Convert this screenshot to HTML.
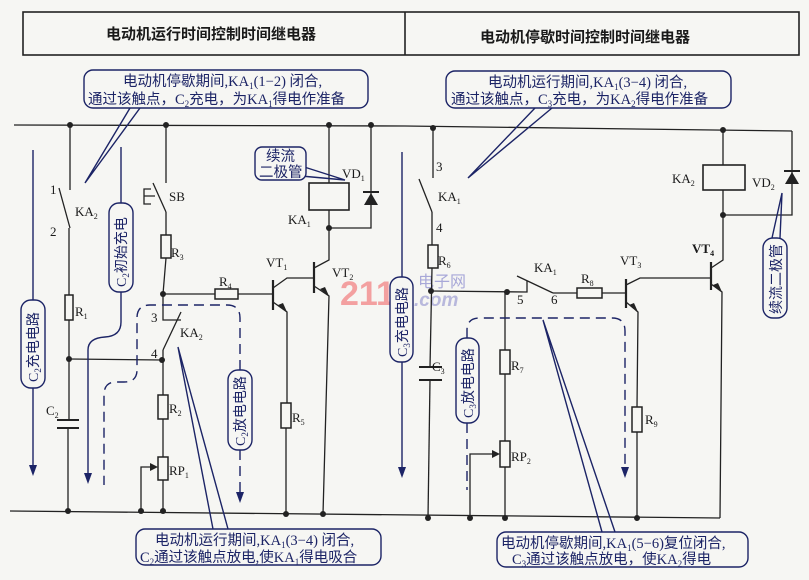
<!DOCTYPE html>
<html><head><meta charset="utf-8"><style>
html,body{margin:0;padding:0;background:#f6f6f3;}
svg{display:block;}
text{font-family:"Liberation Serif","Noto Serif CJK SC","Noto Sans CJK SC",serif;fill:#1a1a1a;}
.c{font-family:"Liberation Serif","Noto Sans CJK SC",sans-serif;fill:#1c2466;}
</style></head><body>
<svg width="809" height="580" viewBox="0 0 809 580" xmlns="http://www.w3.org/2000/svg">
<rect width="809" height="580" fill="#f6f6f3"/>
<!-- watermark -->
<text x="340" y="305" font-size="34" font-weight="bold" style="fill:#f3a0a0;font-family:'Liberation Sans',sans-serif">2110</text>
<text x="418" y="287" font-size="16" style="fill:#a8a8d8;font-family:'Noto Sans CJK SC',sans-serif">电子网</text>
<text x="414" y="306" font-size="19" font-style="italic" font-weight="bold" style="fill:#b8b8dc;font-family:'Liberation Sans',sans-serif">.com</text>

<g stroke="#222" stroke-width="1.3" fill="none">
<rect x="23" y="12" width="776" height="43" stroke-width="1.6"/>
<line x1="405" y1="12" x2="405" y2="55" stroke-width="1.6"/>
<polyline points="14,125 405,126 792,131"/>
<line x1="10" y1="511" x2="720" y2="518"/>
<line x1="70" y1="125" x2="70" y2="190"/>
<line x1="59" y1="188" x2="70" y2="228"/>
<line x1="69" y1="228" x2="69" y2="295"/>
<rect x="65" y="295" width="8" height="25" stroke-width="1.5"/>
<line x1="69" y1="320" x2="69" y2="420"/>
<line x1="57" y1="420" x2="79" y2="420" stroke-width="2"/>
<line x1="57" y1="428" x2="79" y2="428" stroke-width="2"/>
<line x1="68" y1="428" x2="68" y2="511"/>
<line x1="69" y1="359" x2="163" y2="360"/>
<line x1="166" y1="125" x2="166" y2="183"/>
<line x1="153" y1="183" x2="166" y2="212"/>
<line x1="166" y1="212" x2="166" y2="235"/>
<path d="M151 189 H144 V204 H151 M144 196 H155"/>
<rect x="161" y="235" width="10" height="23" stroke-width="1.5"/>
<line x1="166" y1="258" x2="163" y2="294"/>
<polyline points="163,294 163,320 181,320"/>
<line x1="181" y1="312" x2="163" y2="350"/>
<line x1="163" y1="350" x2="163" y2="395"/>
<rect x="158" y="395" width="10" height="24" stroke-width="1.5"/>
<line x1="163" y1="419" x2="163" y2="457"/>
<rect x="158" y="457" width="10" height="23" stroke-width="1.5"/>
<line x1="163" y1="480" x2="163" y2="511"/>
<polyline points="141,511 141,467 153,467"/>
<line x1="163" y1="294" x2="215" y2="294"/>
<rect x="215" y="289" width="23" height="10" stroke-width="1.5"/>
<line x1="238" y1="294" x2="273" y2="294"/>
<line x1="273" y1="280" x2="273" y2="310" stroke-width="2.2"/>
<polyline points="273,288 287,278 314,278"/>
<line x1="314" y1="262" x2="314" y2="293" stroke-width="2.2"/>
<polyline points="314,268 329,260 329,210"/>
<rect x="309" y="183" width="40" height="27" stroke-width="1.6"/>
<line x1="329" y1="125" x2="329" y2="183"/>
<polyline points="329,228 371,228 371,125"/>
<polyline points="314,286 329,296 323,514"/>
<polyline points="273,302 287,312 287,403"/>
<rect x="281" y="403" width="10" height="25" stroke-width="1.5"/>
<line x1="286" y1="428" x2="286" y2="514"/>
<line x1="433" y1="128" x2="433" y2="178"/>
<line x1="419" y1="179" x2="432" y2="212"/>
<line x1="432" y1="212" x2="432" y2="245"/>
<rect x="428" y="245" width="10" height="23" stroke-width="1.5"/>
<line x1="432" y1="268" x2="430" y2="367"/>
<line x1="419" y1="367" x2="442" y2="367" stroke-width="2"/>
<line x1="419" y1="380" x2="442" y2="380" stroke-width="2"/>
<line x1="430" y1="380" x2="428" y2="518"/>
<polyline points="431,291 527,292 527,281"/>
<line x1="517" y1="276" x2="553" y2="293"/>
<line x1="553" y1="293" x2="577" y2="293"/>
<rect x="577" y="288" width="25" height="10" stroke-width="1.5"/>
<line x1="602" y1="293" x2="626" y2="293"/>
<line x1="626" y1="279" x2="626" y2="308" stroke-width="2.2"/>
<polyline points="626,285 640,278 711,278"/>
<line x1="711" y1="262" x2="711" y2="290" stroke-width="2.2"/>
<polyline points="711,268 723,260 723,190"/>
<rect x="703" y="165" width="42" height="25" stroke-width="1.6"/>
<line x1="723" y1="130" x2="723" y2="165"/>
<polyline points="723,215 792,215 792,131"/>
<polyline points="711,284 722,292 720,518"/>
<polyline points="626,302 638,312 637,407"/>
<rect x="632" y="407" width="10" height="25" stroke-width="1.5"/>
<line x1="637" y1="432" x2="637" y2="518"/>
<line x1="505" y1="292" x2="505" y2="350"/>
<rect x="500" y="350" width="10" height="24" stroke-width="1.5"/>
<line x1="505" y1="374" x2="505" y2="441"/>
<rect x="500" y="441" width="10" height="26" stroke-width="1.5"/>
<line x1="505" y1="467" x2="505" y2="518"/>
<polyline points="470,518 470,454 494,454"/>
</g>
<g fill="#222" stroke="none">
<polygon points="371,193 364,205 378,205"/>
<rect x="363" y="191" width="16" height="2"/>
<polygon points="792,172 785,184 799,184"/>
<rect x="784" y="170" width="16" height="2"/>
<polygon points="329,296 320,289 325,287"/>
<polygon points="287,312 278,305 283,303"/>
<polygon points="638,312 629,305 634,303"/>
<polygon points="722,292 713,285 718,283"/>
<polygon points="158,467 150,463 150,471"/>
<polygon points="500,454 492,450 492,458"/>
<circle cx="70" cy="125" r="3"/><circle cx="166" cy="125" r="3"/><circle cx="329" cy="125" r="3"/><circle cx="371" cy="125" r="3"/>
<circle cx="329" cy="228" r="3"/><circle cx="163" cy="294" r="3"/><circle cx="69" cy="359" r="3"/><circle cx="162" cy="360" r="3"/>
<circle cx="68" cy="511" r="3"/><circle cx="141" cy="511" r="3"/><circle cx="163" cy="511" r="3"/><circle cx="286" cy="514" r="3"/><circle cx="323" cy="514" r="3"/>
<circle cx="433" cy="128" r="3"/><circle cx="723" cy="130" r="3"/><circle cx="723" cy="215" r="3"/><circle cx="431" cy="291" r="3"/><circle cx="507" cy="292" r="3"/>
<circle cx="428" cy="518" r="3"/><circle cx="470" cy="518" r="3"/><circle cx="505" cy="518" r="3"/><circle cx="637" cy="518" r="3"/>
</g>
<g stroke="#1c2466" stroke-width="1.4" fill="none">
<line x1="33" y1="150" x2="33" y2="300"/><line x1="33" y1="388" x2="33" y2="470"/>
<line x1="121" y1="147" x2="121" y2="203"/>
<path d="M121 292 V322 Q121 336 105 337 Q88 338 88 350 V478"/>
<line x1="402" y1="152" x2="402" y2="277"/><line x1="402" y1="362" x2="402" y2="472"/>
<g stroke-dasharray="10,6">
<path d="M240 370 V318 Q240 305 227 305 H150 Q137 305 137 318 V370 Q137 382 124 382 H116 Q104 382 104 395 V485"/>
<line x1="240" y1="450" x2="240" y2="496"/>
<path d="M467 338 V330 Q467 318 480 318 H612 Q625 318 625 331 V472"/>
<line x1="467" y1="423" x2="467" y2="490"/>
</g>
<polyline points="130,108 85,183 140,108"/>
<polyline points="535,108 468,178 552,108"/>
<polyline points="290,175 345,180 298,165"/>
<polyline points="772,238 782,193 780,238"/>
<polyline points="213,529 178,347 228,529"/>
<polyline points="602,532 543,320 615,532"/>
<rect x="84" y="70" width="284" height="38" rx="9" fill="#f6f6f3"/>
<rect x="446" y="71" width="285" height="37" rx="9" fill="#f6f6f3"/>
<rect x="136" y="529" width="245" height="36" rx="9" fill="#f6f6f3"/>
<rect x="497" y="532" width="251" height="35" rx="9" fill="#f6f6f3"/>
<rect x="255" y="147" width="51" height="33" rx="7" fill="#f6f6f3"/>
<rect x="21" y="300" width="24" height="88" rx="10" fill="#f6f6f3"/>
<rect x="109" y="203" width="24" height="89" rx="10" fill="#f6f6f3"/>
<rect x="228" y="370" width="24" height="80" rx="10" fill="#f6f6f3"/>
<rect x="390" y="277" width="23" height="85" rx="10" fill="#f6f6f3"/>
<rect x="456" y="338" width="23" height="85" rx="10" fill="#f6f6f3"/>
<rect x="763" y="238" width="24" height="80" rx="10" fill="#f6f6f3"/>
</g>
<g fill="#1c2466">
<polygon points="33,476 29,465 37,465"/>
<polygon points="88,484 84,473 92,473"/>
<polygon points="402,478 398,467 406,467"/>
<polygon points="240,503 236,492 244,492"/>
<polygon points="625,478 621,467 629,467"/>
</g>
<text x="106" y="39" font-size="15" font-weight="bold" style="font-family:'Noto Sans CJK SC',sans-serif">电动机运行时间控制时间继电器</text>
<text x="480" y="42" font-size="15" font-weight="bold" style="font-family:'Noto Sans CJK SC',sans-serif">电动机停歇时间控制时间继电器</text>
<g font-size="14.5">
<text class="c" x="123" y="86">电动机停歇期间,KA<tspan font-size="9" dy="3">1</tspan><tspan dy="-3">(1−2) 闭合,</tspan></text>
<text class="c" x="88" y="104">通过该触点，C<tspan font-size="9" dy="3">2</tspan><tspan dy="-3">充电，为KA</tspan><tspan font-size="9" dy="3">1</tspan><tspan dy="-3">得电作准备</tspan></text>
<text class="c" x="488" y="87">电动机运行期间,KA<tspan font-size="9" dy="3">1</tspan><tspan dy="-3">(3−4) 闭合,</tspan></text>
<text class="c" x="451" y="104">通过该触点，C<tspan font-size="9" dy="3">3</tspan><tspan dy="-3">充电，为KA</tspan><tspan font-size="9" dy="3">2</tspan><tspan dy="-3">得电作准备</tspan></text>
<text class="c" x="155" y="545">电动机运行期间,KA<tspan font-size="9" dy="3">1</tspan><tspan dy="-3">(3−4) 闭合,</tspan></text>
<text class="c" x="140" y="562">C<tspan font-size="9" dy="3">2</tspan><tspan dy="-3">通过该触点放电,使KA</tspan><tspan font-size="9" dy="3">1</tspan><tspan dy="-3">得电吸合</tspan></text>
<text class="c" x="501" y="548">电动机停歇期间,KA<tspan font-size="9" dy="3">1</tspan><tspan dy="-3">(5−6)复位闭合,</tspan></text>
<text class="c" x="512" y="564">C<tspan font-size="9" dy="3">3</tspan><tspan dy="-3">通过该触点放电，使KA</tspan><tspan font-size="9" dy="3">2</tspan><tspan dy="-3">得电</tspan></text>
<text class="c" x="266" y="161">续流</text>
<text class="c" x="259" y="177">二极管</text>
</g>
<g font-size="14">
<text class="c" transform="translate(38,382) rotate(-90)">C<tspan font-size="9" dy="3">2</tspan><tspan dy="-3">充电电路</tspan></text>
<text class="c" transform="translate(126,287) rotate(-90)">C<tspan font-size="9" dy="3">2</tspan><tspan dy="-3">初始充电</tspan></text>
<text class="c" transform="translate(245,446) rotate(-90)">C<tspan font-size="9" dy="3">2</tspan><tspan dy="-3">放电电路</tspan></text>
<text class="c" transform="translate(407,357) rotate(-90)">C<tspan font-size="9" dy="3">3</tspan><tspan dy="-3">充电电路</tspan></text>
<text class="c" transform="translate(473,418) rotate(-90)">C<tspan font-size="9" dy="3">3</tspan><tspan dy="-3">放电电路</tspan></text>
<text class="c" transform="translate(781,314) rotate(-90)">续流二极管</text>
</g>
<g font-size="13">
<text x="50" y="194">1</text><text x="50" y="236">2</text>
<text x="75" y="216">KA<tspan font-size="8" dy="3">2</tspan></text>
<text x="169" y="201">SB</text>
<text x="171" y="257">R<tspan font-size="8" dy="3">3</tspan></text>
<text x="75" y="316">R<tspan font-size="8" dy="3">1</tspan></text>
<text x="46" y="415">C<tspan font-size="8" dy="3">2</tspan></text>
<text x="151" y="322">3</text><text x="151" y="358">4</text>
<text x="180" y="337">KA<tspan font-size="8" dy="3">2</tspan></text>
<text x="169" y="413">R<tspan font-size="8" dy="3">2</tspan></text>
<text x="169" y="475">RP<tspan font-size="8" dy="3">1</tspan></text>
<text x="219" y="286">R<tspan font-size="8" dy="3">4</tspan></text>
<text x="266" y="267">VT<tspan font-size="8" dy="3">1</tspan></text>
<text x="332" y="277">VT<tspan font-size="8" dy="3">2</tspan></text>
<text x="292" y="422">R<tspan font-size="8" dy="3">5</tspan></text>
<text x="288" y="224">KA<tspan font-size="8" dy="3">1</tspan></text>
<text x="342" y="178">VD<tspan font-size="8" dy="3">1</tspan></text>
<text x="436" y="171">3</text><text x="436" y="232">4</text>
<text x="438" y="201">KA<tspan font-size="8" dy="3">1</tspan></text>
<text x="438" y="265">R<tspan font-size="8" dy="3">6</tspan></text>
<text x="432" y="371">C<tspan font-size="8" dy="3">3</tspan></text>
<text x="534" y="272">KA<tspan font-size="8" dy="3">1</tspan></text>
<text x="517" y="304">5</text><text x="551" y="304">6</text>
<text x="581" y="283">R<tspan font-size="8" dy="3">8</tspan></text>
<text x="620" y="265">VT<tspan font-size="8" dy="3">3</tspan></text>
<text x="692" y="253" font-weight="bold">VT<tspan font-size="8" dy="3">4</tspan></text>
<text x="511" y="370">R<tspan font-size="8" dy="3">7</tspan></text>
<text x="511" y="461">RP<tspan font-size="8" dy="3">2</tspan></text>
<text x="645" y="424">R<tspan font-size="8" dy="3">9</tspan></text>
<text x="672" y="183">KA<tspan font-size="8" dy="3">2</tspan></text>
<text x="752" y="187">VD<tspan font-size="8" dy="3">2</tspan></text>
</g>
</svg>
</body></html>
